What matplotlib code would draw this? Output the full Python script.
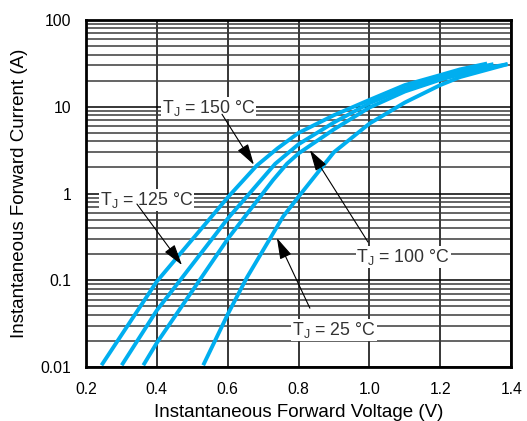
import numpy as np
import matplotlib
matplotlib.use("Agg")
import matplotlib.pyplot as plt
from matplotlib.ticker import FixedLocator, NullFormatter

plt.rcParams['font.family'] = ['Liberation Sans', 'DejaVu Sans']
plt.rcParams['mathtext.fontset'] = 'custom'
plt.rcParams['mathtext.rm'] = 'Liberation Sans'

# forward characteristics (V, A)
v_150 = [0.244, 0.40, 0.602, 0.682, 0.74, 0.80, 0.90, 1.00, 1.10, 1.20, 1.256, 1.332]
i_150 = [0.0105, 0.097, 0.92, 2.1, 3.3, 5.0, 8.0, 12.0, 17.8, 23.2, 27.0, 31.5]

v_125 = [0.301, 0.40, 0.602, 0.734, 0.80, 0.90, 1.00, 1.10, 1.20, 1.30, 1.35]
i_125 = [0.0105, 0.045, 0.525, 2.2, 3.7, 6.6, 11.0, 16.2, 22.0, 28.0, 31.0]

v_100 = [0.362, 0.40, 0.602, 0.728, 0.767, 0.80, 0.90, 1.00, 1.10, 1.20, 1.30, 1.39]
i_100 = [0.0105, 0.019, 0.307, 1.43, 2.2, 2.9, 5.5, 9.8, 15.0, 20.5, 26.5, 31.0]

v_25 = [0.531, 0.602, 0.655, 0.756, 0.80, 0.90, 1.00, 1.10, 1.20, 1.256, 1.39]
i_25 = [0.0105, 0.042, 0.109, 0.54, 0.92, 3.0, 6.4, 11.2, 17.8, 22.0, 31.0]

x_ticks = [0.2, 0.4, 0.6, 0.8, 1.0, 1.2, 1.4]
x_labels = ['0.2', '0.4', '0.6', '0.8', '1.0', '1.2', '1.4']
y_ticks = [0.01, 0.1, 1, 10, 100]
y_labels = ['0.01', '0.1', '1', '10', '100']

# callouts: text, text centre, arrow tip, arrow tail (all V, A)
labels = [r'T$_{\rm J}$ = 150 °C', r'T$_{\rm J}$ = 125 °C',
          r'T$_{\rm J}$ = 100 °C', r'T$_{\rm J}$ = 25 °C']
label_pos = [(0.547, 9.7), (0.372, 0.84), (1.095, 0.185), (0.900, 0.0267)]
tip_pos = [(0.674, 2.15), (0.471, 0.15), (0.832, 3.17), (0.739, 0.307)]
tail_pos = [(0.584, 8.2), (0.344, 0.757), (0.996, 0.276), (0.832, 0.0478)]

cyan = '#00AEEF'

fig = plt.figure(figsize=(5.27, 4.21), dpi=100)
ax = fig.add_axes([0.163, 0.128, 0.807, 0.8245])

for v, i in [(v_150, i_150), (v_125, i_125), (v_100, i_100), (v_25, i_25)]:
    ax.plot(v, i, color=cyan, lw=2.8, solid_capstyle='butt',
            solid_joinstyle='round', zorder=3)

ax.set_yscale('log')
ax.set_xlim(0.2, 1.4)
ax.set_ylim(0.01, 100)

ax.xaxis.set_major_locator(FixedLocator(x_ticks))
ax.set_xticklabels(x_labels)
ax.yaxis.set_major_locator(FixedLocator(y_ticks))
ax.set_yticklabels(y_labels)
minor = [m * 10.0 ** e for e in range(-2, 2) for m in range(2, 10)]
ax.yaxis.set_minor_locator(FixedLocator(minor))
ax.yaxis.set_minor_formatter(NullFormatter())

ax.grid(True, which='major', axis='both', color='black', lw=1.1, zorder=1)
ax.grid(True, which='minor', axis='y', color='#3a3a3a', lw=1.1, zorder=1)
ax.tick_params(which='both', length=0, labelsize=11.3, pad=10.5)
for s in ax.spines.values():
    s.set_linewidth(2.0)
    s.set_zorder(5)

ax.set_xlabel('Instantaneous Forward Voltage (V)', fontsize=13.5, labelpad=5)
ax.set_ylabel('Instantaneous Forward Current (A)', fontsize=13.5, labelpad=9)

for txt, lp, tp, sp in zip(labels, label_pos, tip_pos, tail_pos):
    ax.text(lp[0], lp[1], txt, fontsize=12.8, color='#333333', ha='center', va='center',
            bbox=dict(facecolor='white', edgecolor='none', pad=0.5), zorder=4)
    ax.annotate('', xy=tp, xytext=sp,
                arrowprops=dict(arrowstyle='-|>,head_length=1.3,head_width=0.38',
                                color='black', lw=0.8, shrinkA=0, shrinkB=0),
                zorder=4)

fig.savefig('out.png', dpi=100)
